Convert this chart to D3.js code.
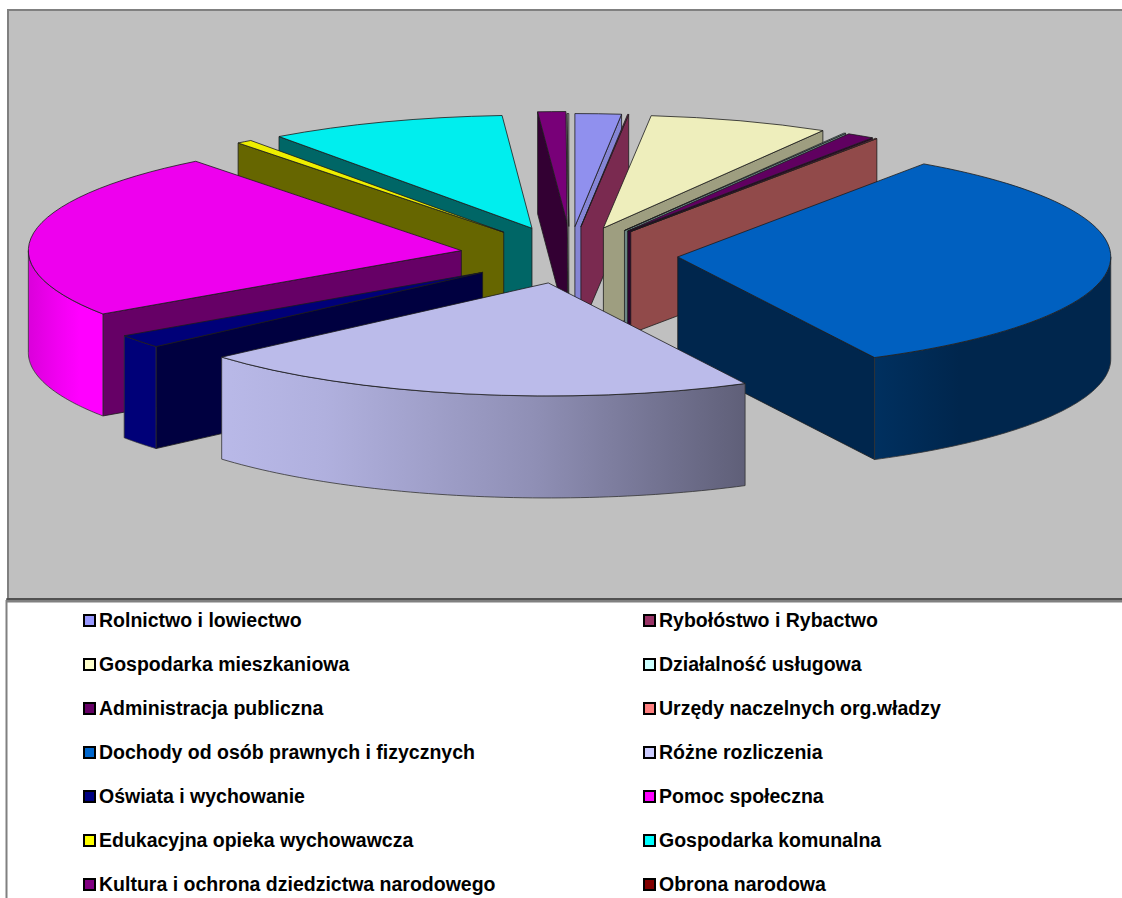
<!DOCTYPE html>
<html>
<head>
<meta charset="utf-8">
<script src="https://d3js.org/d3.v7.min.js"></script>
<style>
body { margin: 0; background: #fff; overflow: hidden; }
text { font-family: "Liberation Sans", Arial, sans-serif; font-weight: bold; }
</style>
</head>
<body>
<svg id="chart" width="1122" height="898"></svg>
<script>
// data (share of the total, %)
var categories = ["Rolnictwo i lowiectwo", "Rybołóstwo i Rybactwo", "Gospodarka mieszkaniowa", "Działalność usługowa",
  "Administracja publiczna", "Urzędy naczelnych org.władzy", "Dochody od osób prawnych i fizycznych", "Różne rozliczenia",
  "Oświata i wychowanie", "Pomoc społeczna", "Edukacyjna opieka wychowawcza", "Gospodarka komunalna",
  "Kultura i ochrona dziedzictwa narodowego", "Obrona narodowa"]
var values = [1.72, 0.04, 6.70, 0.07, 1.03, 0.06, 32.87, 21.11, 1.92, 23.97, 0.58, 8.83, 1.04, 0.06]

// colours
var legendColors = ["#9999ff", "#993366", "#ffffcc", "#ccffff", "#660066", "#ff8080", "#0066cc", "#ccccff", "#000080", "#ff00ff", "#ffff00", "#00ffff", "#800080", "#800000"]
var topColors = ["#9090ee", "#8f3060", "#eeeebc", "#bceeee", "#600060", "#ee7878", "#0060c0", "#bbbbea", "#000078", "#ee00ee", "#eeee00", "#00eeee", "#780078", "#c8c8c8"]
var wallColors = ["#8585d5", "#7a2a50", "#9e9e80", "#6b8585", "#2f0030", "#914a4a", "#00264d", "#5f5f78", "#000040", "#660066", "#666600", "#006666", "#330033", "#c4c4c4"]

var svg = d3.select("#chart")

// grey plot panel
svg.append("rect").attr("x", 8).attr("y", 10).attr("width", 1130).attr("height", 589).attr("fill", "#c0c0c0").attr("stroke", "#808080").attr("stroke-width", 2)
svg.append("line").attr("x1", 6).attr("x2", 1122).attr("y1", 601).attr("y2", 601).attr("stroke", "#808080").attr("stroke-width", 3)
svg.append("line").attr("x1", 6).attr("x2", 1122).attr("y1", 599).attr("y2", 599).attr("stroke", "#222")
svg.append("line").attr("x1", 6.5).attr("x2", 6.5).attr("y1", 600).attr("y2", 898).attr("stroke", "#808080").attr("stroke-width", 2)

// exploded pie seen from above
var cx = 569, cy = 255, radius = 433, tilt = 0.261, explode = 109, depth = 102
// Kultura sits a little off the plain explode position
var nudge = { 12: [2.5, -2] }

var defs = svg.append("defs")
function gradient(id, x1, x2, stops) {
  var g = defs.append("linearGradient").attr("id", id).attr("gradientUnits", "userSpaceOnUse")
    .attr("x1", x1).attr("x2", x2).attr("y1", 0).attr("y2", 0)
  stops.forEach(function(s) { g.append("stop").attr("offset", s[0]).attr("stop-color", s[1]) })
}
gradient("rimRozne", 220, 746, [[0, "#b9b9e8"], [0.2, "#b0b0de"], [0.6, "#8f8fb5"], [1, "#5f5f78"]])
gradient("rimDochody", 876, 960, [[0, "#00305f"], [1, "#00264d"]])
gradient("rimPomoc", 25, 103, [[0, "#d800d8"], [0.4, "#f000f0"], [0.7, "#ff00ff"], [1, "#ff00ff"]])
var rimFill = { 6: "url(#rimDochody)", 7: "url(#rimRozne)", 8: "#000078", 9: "url(#rimPomoc)" }

var slices = d3.pie().sort(null).value(function(d) { return d })(values)
var arc = d3.arc().innerRadius(0).outerRadius(radius)
var line = d3.line()

slices.forEach(function(d, i) {
  var mid = (d.startAngle + d.endAngle) / 2
  var n = nudge[i] || [0, 0]
  d.index = i
  d.ox = cx + explode * Math.sin(mid) + n[0]
  d.oy = cy - explode * Math.cos(mid) * tilt + n[1]
})

function edge(d, a) {
  return [d.ox + radius * Math.sin(a), d.oy - radius * Math.cos(a) * tilt]
}

function radialWall(d, a) {
  var p = edge(d, a)
  return line([[d.ox, d.oy], p, [p[0], p[1] + depth], [d.ox, d.oy + depth]]) + "Z"
}

function rimWall(d, a0, a1) {
  var steps = d3.range(0, 61).map(function(t) { return a0 + (a1 - a0) * t / 60 })
  var upper = steps.map(function(a) { return edge(d, a) })
  var lower = upper.map(function(p) { return [p[0], p[1] + depth] }).reverse()
  return line(upper.concat(lower)) + "Z"
}

// back slices first, so the front ones cover them
var ordered = slices.slice().sort(function(a, b) { return a.oy - b.oy || a.index - b.index })

ordered.forEach(function(d) {
  var i = d.index
  var g = svg.append("g").attr("stroke", "#1c1c1c").attr("stroke-width", 0.8).attr("stroke-linejoin", "round")

  // only the faces turned to the viewer
  if (d.startAngle > Math.PI) g.append("path").attr("d", radialWall(d, d.startAngle)).attr("fill", wallColors[i])
  if (d.endAngle < Math.PI) g.append("path").attr("d", radialWall(d, d.endAngle)).attr("fill", wallColors[i])

  var a0 = Math.max(d.startAngle, Math.PI / 2), a1 = Math.min(d.endAngle, Math.PI * 1.5)
  if (a1 > a0) g.append("path").attr("d", rimWall(d, a0, a1)).attr("fill", rimFill[i] || wallColors[i]).attr("stroke", "#333")

  g.append("path")
    .attr("d", arc(d))
    .attr("transform", "translate(" + d.ox + "," + d.oy + ") scale(1," + tilt + ")")
    .attr("vector-effect", "non-scaling-stroke")
    .attr("fill", topColors[i])
})

// Handmade legend, two columns
var legendX = d3.scaleOrdinal().domain([0, 1]).range([84, 644])
var legendY = d3.scalePoint().domain(d3.range(7)).range([620, 884])

categories.forEach(function(name, i) {
  var col = i % 2, row = Math.floor(i / 2)
  svg.append("rect").attr("x", legendX(col)).attr("y", legendY(row) - 5).attr("width", 11).attr("height", 11)
    .attr("fill", legendColors[i]).attr("stroke", "#000").attr("stroke-width", 2)
  svg.append("text").attr("x", legendX(col) + 15).attr("y", legendY(row) + 7).text(name)
    .style("font-size", "19.5px").attr("fill", "#000")
})
</script>
</body>
</html>
